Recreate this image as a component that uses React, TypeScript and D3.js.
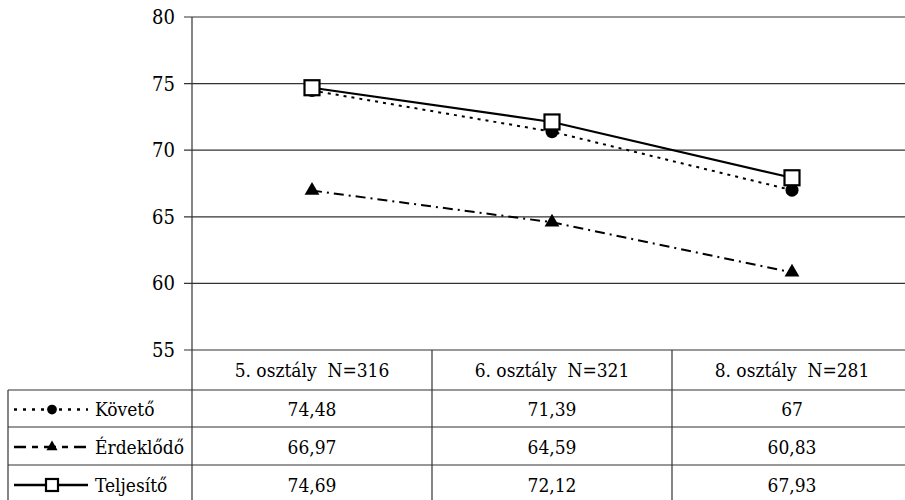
import React from "react";
import * as d3 from "d3";

const categories = ["5. osztály  N=316", "6. osztály  N=321", "8. osztály  N=281"];
const seriesNames = ["Követő", "Érdeklődő", "Teljesítő"];
const kovetoValues = [74.48, 71.39, 67];
const erdeklodoValues = [66.97, 64.59, 60.83];
const teljesitoValues = [74.69, 72.12, 67.93];
const kovetoLabels = ["74,48", "71,39", "67"];
const erdeklodoLabels = ["66,97", "64,59", "60,83"];
const teljesitoLabels = ["74,69", "72,12", "67,93"];
const yTicks = [55, 60, 65, 70, 75, 80];

const W = 905;
const H = 500;
const FONT = "'DejaVu Serif', serif";

export default function App() {
  const x = d3.scaleBand<string>().domain(categories).range([192, 912]).padding(0);
  const y = d3.scaleLinear().domain([55, 80]).range([350, 17]);
  const cx = (c: string) => (x(c) as number) + x.bandwidth() / 2;

  const line = d3
    .line<number>()
    .x((_, i) => cx(categories[i]))
    .y((v) => y(v));

  const series = [
    { name: seriesNames[0], values: kovetoValues, labels: kovetoLabels, dash: "3,5", width: 2, marker: "circle" },
    { name: seriesNames[1], values: erdeklodoValues, labels: erdeklodoLabels, dash: "10,5,2,5", width: 2, marker: "triangle" },
    { name: seriesNames[2], values: teljesitoValues, labels: teljesitoLabels, dash: "", width: 2.2, marker: "square" },
  ];

  const rowEdges = [350, 390, 427, 465, 503];
  const tableLeft = 8;
  const legendRight = 192;
  const textStyle: React.CSSProperties = { fontFamily: FONT, fontStretch: "condensed", whiteSpace: "pre" };

  const drawMarker = (m: string, px: number, py: number, scale = 1, key?: string) => {
    if (m === "circle") return <circle key={key} cx={px} cy={py} r={6.5 * scale} fill="#000" />;
    if (m === "triangle") {
      const tri = d3.symbol().type(d3.symbolTriangle).size(95 * scale * scale)();
      return <path key={key} d={tri as string} transform={`translate(${px},${py})`} fill="#000" />;
    }
    const s = 15 * scale;
    return (
      <rect key={key} x={px - s / 2} y={py - s / 2} width={s} height={s} fill="#fff" stroke="#000" strokeWidth={2.2} />
    );
  };

  return (
    <svg
      width={W}
      height={H}
      style={{ position: "absolute", left: 0, top: 0, background: "#fff", fontFamily: FONT }}
    >
      <rect x={0} y={0} width={W} height={H} fill="#fff" />
      {yTicks.map((t) => (
        <g key={t}>
          <line x1={184} x2={W} y1={y(t)} y2={y(t)} stroke="#333" strokeWidth={1.2} />
          <text x={175} y={y(t)} dy="0.35em" textAnchor="end" fontSize={20} fill="#000" style={textStyle}>
            {t}
          </text>
        </g>
      ))}
      <line x1={legendRight} x2={legendRight} y1={y(80)} y2={H} stroke="#333" strokeWidth={1.2} />

      {rowEdges.slice(1, 4).map((ry) => (
        <line key={ry} x1={tableLeft} x2={W} y1={ry} y2={ry} stroke="#333" strokeWidth={1.2} />
      ))}
      <line x1={tableLeft} x2={tableLeft} y1={rowEdges[1]} y2={H} stroke="#333" strokeWidth={1.2} />
      {categories.slice(1).map((c) => (
        <line key={c} x1={x(c) as number} x2={x(c) as number} y1={rowEdges[0]} y2={H} stroke="#333" strokeWidth={1.2} />
      ))}

      {categories.map((c) => (
        <text
          key={c}
          x={cx(c)}
          y={(rowEdges[0] + rowEdges[1]) / 2}
          dy="0.35em"
          textAnchor="middle"
          fontSize={19}
          style={textStyle}
        >
          {c}
        </text>
      ))}

      {series.map((s, si) => {
        const my = (rowEdges[si + 1] + rowEdges[si + 2]) / 2 + 1;
        return (
          <g key={s.name}>
            <line
              x1={14}
              x2={88}
              y1={my}
              y2={my}
              stroke="#000"
              strokeWidth={2.5}
              strokeDasharray={si === 0 ? "3,6" : si === 1 ? "12,6,6,6" : ""}
            />
            {drawMarker(s.marker, 52, my, s.marker === "square" ? 0.8 : 0.75)}
            <text x={95} y={my} dy="0.35em" fontSize={19} style={textStyle}>
              {s.name}
            </text>
            {s.labels.map((l, i) => (
              <text key={i} x={cx(categories[i])} y={my} dy="0.35em" textAnchor="middle" fontSize={19} style={textStyle}>
                {l}
              </text>
            ))}
          </g>
        );
      })}

      {series.map((s) => (
        <path
          key={s.name}
          d={line(s.values) as string}
          fill="none"
          stroke="#000"
          strokeWidth={s.width}
          strokeDasharray={s.dash || undefined}
        />
      ))}
      {series.map((s) =>
        s.values.map((v, i) => drawMarker(s.marker, cx(categories[i]), y(v), 1, `${s.name}-${i}`))
      )}
    </svg>
  );
}
